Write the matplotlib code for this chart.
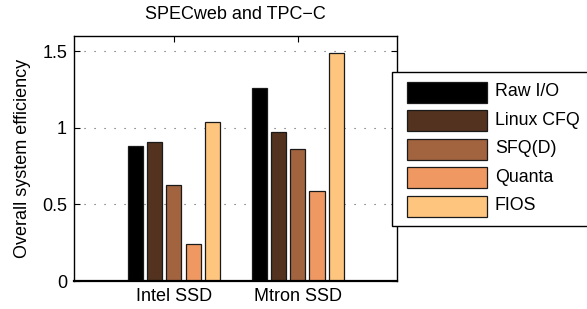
import matplotlib
matplotlib.use("Agg")
import matplotlib.pyplot as plt
from matplotlib.patches import Rectangle
import numpy as np

plt.rcParams['font.family'] = ['Liberation Sans', 'DejaVu Sans']

categories = ["Intel SSD", "Mtron SSD"]
series = ["Raw I/O", "Linux CFQ", "SFQ(D)", "Quanta", "FIOS"]
values = {
    "Raw I/O":   [0.882, 1.261],
    "Linux CFQ": [0.911, 0.974],
    "SFQ(D)":    [0.626, 0.863],
    "Quanta":    [0.239, 0.589],
    "FIOS":      [1.037, 1.489],
}
colors = ["#000000", "#53331f", "#a2633f", "#f09862", "#fec57f"]
yticks = [0, 0.5, 1, 1.5]
yticklabels = ["0", "0.5", "1", "1.5"]

W, H = 587, 309
fig = plt.figure(figsize=(W/100, H/100), dpi=100)
ax = fig.add_axes([74/W, 1-281/H, (397-74)/W, (281-36)/H])

x = np.arange(1, len(categories) + 1)
spacing = 0.155
width = 0.122
for i, (s, c) in enumerate(zip(series, colors)):
    off = (i - 2) * spacing
    ax.bar(x + off, values[s], width=width, color=c, edgecolor="#1a1a1a",
           linewidth=0.9, label=s, zorder=3)

ax.set_xlim(0.194, 2.8)
ax.set_ylim(0, 1.6)
ax.set_yticks(yticks)
ax.set_yticklabels(yticklabels)
ax.set_xticks(x)
ax.set_xticklabels(categories)
ax.tick_params(direction="in", top=True, right=True, labelsize=13, length=4, width=0.8, pad=5)
for sp in ax.spines.values():
    sp.set_linewidth(1.0)
    sp.set_zorder(4)
ax.spines["bottom"].set_linewidth(1.6)
ax.yaxis.grid(True, linestyle=(0, (1, 8)), color="#555555", linewidth=0.8, zorder=0)
ax.set_axisbelow(True)

ax.set_title("SPECweb and TPC\u2212C", fontsize=13, pad=12)
ax.set_ylabel("Overall system efficiency", fontsize=13, labelpad=8)

# legend (drawn in figure pixel layout)
tf = fig.transFigure
fig.patches.append(Rectangle((392/W, 1-226/H), 210/W, 154/H, transform=tf,
                             facecolor="white", edgecolor="black", linewidth=1.0, zorder=5))
row0, rowstep, ph = 92, 28.5, 21
for i, (s, c) in enumerate(zip(series, colors)):
    yc = row0 + i*rowstep
    fig.patches.append(Rectangle((407/W, 1-(yc+ph/2)/H), 80/W, ph/H, transform=tf,
                                 facecolor=c, edgecolor="#1a1a1a", linewidth=0.9, zorder=6))
    fig.text(495/W, 1-yc/H, s, transform=tf, fontsize=12.8, va="center", ha="left", zorder=7)

fig.savefig("out.png", dpi=100)
